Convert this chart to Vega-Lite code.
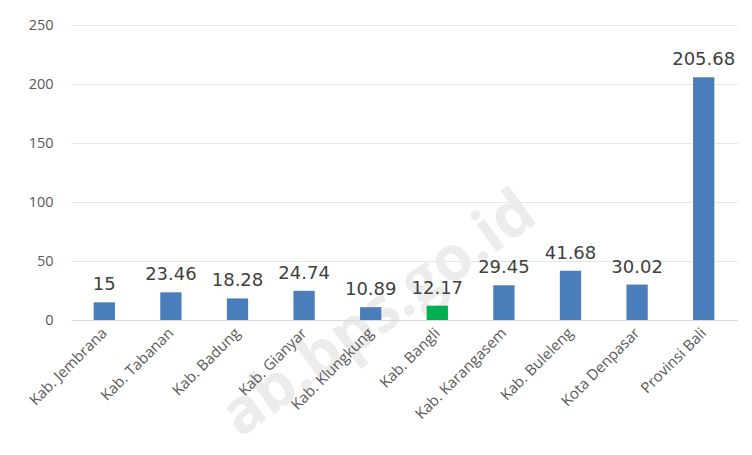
{
  "$schema": "https://vega.github.io/schema/vega-lite/v6.json",
  "autosize": "none",
  "width": 666,
  "height": 295,
  "padding": {"left": 71, "top": 25, "right": 15, "bottom": 135},
  "background": "#ffffff",
  "config": {"view": {"stroke": null}, "font": "Open Sans"},
  "data": {"values": [
    {"wilayah": "Kab. Jembrana", "nilai": 15, "label": "15", "hl": "n"},
    {"wilayah": "Kab. Tabanan", "nilai": 23.46, "label": "23.46", "hl": "n"},
    {"wilayah": "Kab. Badung", "nilai": 18.28, "label": "18.28", "hl": "n"},
    {"wilayah": "Kab. Gianyar", "nilai": 24.74, "label": "24.74", "hl": "n"},
    {"wilayah": "Kab. Klungkung", "nilai": 10.89, "label": "10.89", "hl": "n"},
    {"wilayah": "Kab. Bangli", "nilai": 12.17, "label": "12.17", "hl": "y"},
    {"wilayah": "Kab. Karangasem", "nilai": 29.45, "label": "29.45", "hl": "n"},
    {"wilayah": "Kab. Buleleng", "nilai": 41.68, "label": "41.68", "hl": "n"},
    {"wilayah": "Kota Denpasar", "nilai": 30.02, "label": "30.02", "hl": "n"},
    {"wilayah": "Provinsi Bali", "nilai": 205.68, "label": "205.68", "hl": "n"}
  ]},
  "encoding": {
    "x": {"field": "wilayah", "type": "nominal", "sort": null,
      "scale": {"domain": ["Kab. Jembrana", "Kab. Tabanan", "Kab. Badung", "Kab. Gianyar", "Kab. Klungkung", "Kab. Bangli", "Kab. Karangasem", "Kab. Buleleng", "Kota Denpasar", "Provinsi Bali"], "paddingInner": 0.68, "paddingOuter": 0.34},
      "axis": {"title": null, "zindex": 1, "labelAngle": -45, "labelAlign": "right", "labelBaseline": "middle", "labelFontSize": 15, "labelColor": "#595959", "ticks": false, "domain": true, "domainColor": "#d9d9d9", "labelPadding": 10, "labelFont": "Open Sans"}}
  },
  "layer": [
    {
      "data": {"values": [{"wm": "ab.bps.go.id", "wilayah": "Kab. Klungkung", "y": 0}]},
      "mark": {"type": "text", "angle": -36, "fontSize": 62, "fontWeight": "bold", "color": "#ececec", "font": "Open Sans", "align": "center", "baseline": "middle", "dx": 10, "dy": 0},
      "encoding": {
        "y": {"field": "y", "type": "quantitative"},
        "text": {"field": "wm"}
      }
    },
    {
      "mark": {"type": "bar"},
      "encoding": {
        "y": {"field": "nilai", "type": "quantitative", "scale": {"domain": [0, 250], "nice": false},
          "axis": {"title": null, "values": [0, 50, 100, 150, 200, 250], "labelFontSize": 14.5, "labelColor": "#595959", "ticks": false, "domain": false, "gridColor": "#e6e6e6", "labelPadding": 18, "labelFont": "Open Sans"}},
        "color": {"field": "hl", "type": "nominal", "scale": {"domain": ["n", "y"], "range": ["#4a7ebb", "#00b050"]}, "legend": null}
      }
    },
    {
      "mark": {"type": "text", "baseline": "bottom", "dy": -8, "fontSize": 18, "color": "#404040", "font": "DejaVu Sans"},
      "encoding": {
        "y": {"field": "nilai", "type": "quantitative"},
        "text": {"field": "label"}
      }
    }
  ]
}
